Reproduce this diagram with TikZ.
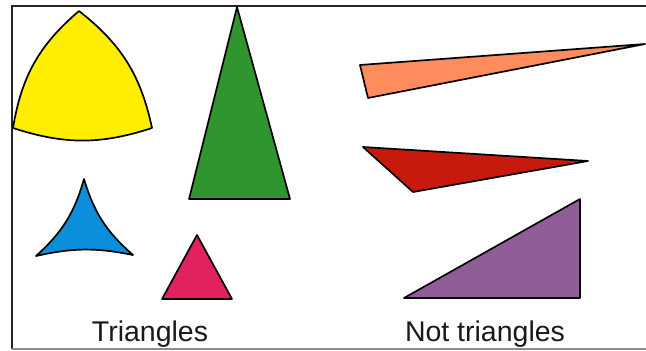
\documentclass[tikz,border=0pt]{standalone}
\usepackage{fontspec}
\setmainfont{Liberation Sans}
\usepackage{xcolor}
\usepackage{tikz}
\usetikzlibrary{positioning}
\definecolor{yelfill}{HTML}{FFEE00}
\definecolor{grnfill}{HTML}{2F962F}
\definecolor{blufill}{HTML}{0B8FDB}
\definecolor{pnkfill}{HTML}{E2215F}
\definecolor{orgfill}{HTML}{FF8C5C}
\definecolor{redfill}{HTML}{C81A0C}
\definecolor{purfill}{HTML}{905D98}
\tikzset{
  shp/.style={draw=black, line width=1.7pt, line join=round},
  frm/.style={line width=1.3pt},
  captxt/.style={font=\fontsize{28.5}{32}\selectfont, text=black!90, anchor=base, inner sep=0pt},
}

\begin{document}
\begin{tikzpicture}[x=1pt, y=-1pt]
  \useasboundingbox (0,0) rectangle (646,351);

  % frame
  \draw[frm, black!85] (646,6) -- (12,6) -- (12,349);
  \draw[frm, black!45] (12,349) -- (646,349);

  % triangles
  \draw[shp, fill=yelfill] (79,11) to[bend right=20] (13,128) to[bend right=18] (152,128) to[bend right=20] cycle;
  \draw[shp, fill=grnfill] (237,7) -- (189,199) -- (290,199) -- cycle;
  \draw[shp, fill=blufill] (84,179) to[bend left=16] (36,256) to[bend left=12] (133,255) to[bend left=16] cycle;
  \draw[shp, fill=pnkfill] (197,235) -- (162,299) -- (232,299) -- cycle;

  % not triangles
  \draw[shp, fill=orgfill] (360,65) -- (645,44) -- (368,98) -- cycle;
  \draw[shp, fill=redfill] (363,147) -- (588,161) -- (413,192) -- cycle;
  \draw[shp, fill=purfill] (404,298) -- (580,199) -- (580,298) -- cycle;

  % captions
  \node[captxt] (trl) at (150,341) {Triangles};
  \node[captxt] (ntrl) at (485,341) {Not triangles};
\end{tikzpicture}
\end{document}
